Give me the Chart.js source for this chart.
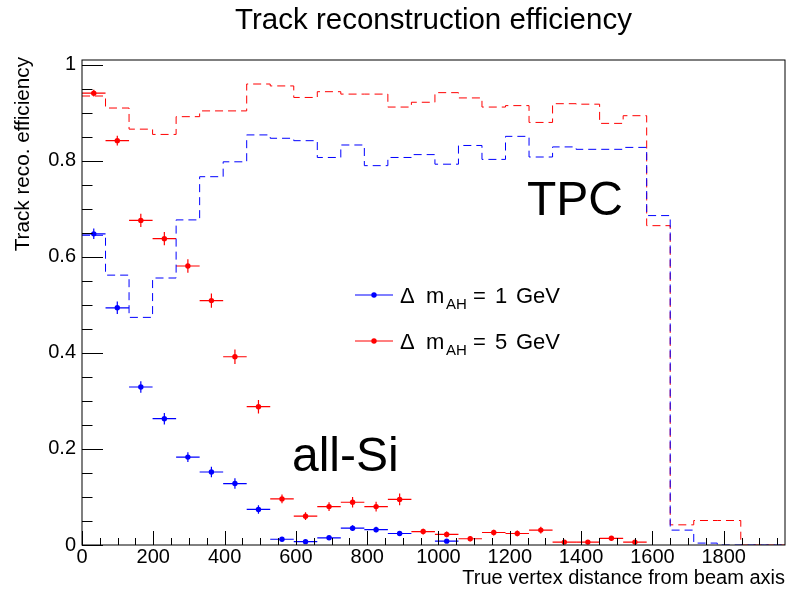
<!DOCTYPE html>
<html>
<head>
<meta charset="utf-8">
<script src="https://cdn.jsdelivr.net/npm/chart.js@4.4.1/dist/chart.umd.min.js"></script>
<style>
  html, body { margin: 0; padding: 0; background: #ffffff; }
  canvas { display: block; }
</style>
</head>
<body>
<canvas id="eff" width="789" height="590"></canvas>
<script>
// Binning of the transverse vertex distance (30 bins of 66)
const binWidth = 66;
const binCenters = [33, 99, 165, 231, 297, 363, 429, 495, 561, 627,
                    693, 759, 825, 891, 957, 1023, 1089, 1155, 1221, 1287,
                    1353, 1419, 1485, 1551, 1617, 1683, 1749, 1815, 1881, 1947];

// TPC efficiency (dashed histograms)
const tpcDm1 = [0.645, 0.562, 0.474, 0.556, 0.677, 0.767, 0.798, 0.854, 0.847, 0.842,
                0.807, 0.833, 0.790, 0.807, 0.813, 0.793, 0.832, 0.803, 0.851, 0.808,
                0.829, 0.824, 0.824, 0.828, 0.686, 0.031, 0.004, 0, 0, 0];
const tpcDm5 = [0.935, 0.910, 0.866, 0.855, 0.892, 0.904, 0.904, 0.960, 0.956, 0.932,
                0.944, 0.939, 0.939, 0.912, 0.922, 0.942, 0.931, 0.912, 0.915, 0.880,
                0.919, 0.918, 0.878, 0.894, 0.665, 0.042, 0.051, 0.051, 0, 0];

// all-Si efficiency (points with error bars)
const siDm1 = [0.648, 0.494, 0.329, 0.263, 0.183, 0.152, 0.128, 0.074, 0.012, 0.007,
               0.015, 0.035, 0.032, 0.024, null, 0.008, null, null, null, null,
               null, null, null, null, null, null, null, null, null, null];
const siDm1Err = [0.011, 0.013, 0.012, 0.012, 0.010, 0.011, 0.011, 0.009, 0.003, 0.003,
                  0.004, 0.006, 0.006, 0.005, 0, 0.003, 0, 0, 0, 0,
                  0, 0, 0, 0, 0, 0, 0, 0, 0, 0];
const siDm5 = [0.941, 0.842, 0.676, 0.638, 0.581, 0.509, 0.392, 0.288, 0.096, 0.060,
               0.080, 0.089, 0.080, 0.095, 0.028, 0.022, 0.013, 0.026, 0.024, 0.031,
               0.006, 0.006, 0.014, 0.006, null, null, null, null, null, null];
const siDm5Err = [0.007, 0.010, 0.014, 0.014, 0.014, 0.015, 0.015, 0.014, 0.009, 0.008,
                  0.009, 0.011, 0.010, 0.012, 0.006, 0.006, 0.005, 0.006, 0.006, 0.007,
                  0.003, 0.003, 0.005, 0.003, 0, 0, 0, 0, 0, 0];

// Axis tick labels
const xTickValues = [0, 200, 400, 600, 800, 1000, 1200, 1400, 1600, 1800];
const yTickValues = [0, 0.2, 0.4, 0.6, 0.8, 1];

// Legend entries
const legendMasses = [1, 5];

const FONT = '"Liberation Sans", Arial, Helvetica, sans-serif';
const BLUE = '#0000ff';
const RED = '#ff0000';

// Histogram outline: one point per lower bin edge plus the last upper edge
function histPoints(vals) {
  const pts = vals.map((v, i) => ({ x: binCenters[i] - binWidth / 2, y: v }));
  const n = vals.length - 1;
  pts.push({ x: binCenters[n] + binWidth / 2, y: vals[n] });
  return pts;
}
function markerPoints(vals) {
  const pts = [];
  vals.forEach((v, i) => { if (v !== null) pts.push({ x: binCenters[i], y: v }); });
  return pts;
}

// Error bars, frame, inward ticks, titles, legend and labels in ROOT style
const rootStyle = {
  id: 'rootStyle',
  beforeDatasetsDraw(chart) {
    const { ctx, scales: { x, y } } = chart;
    const bars = (vals, errs, color) => {
      ctx.save();
      ctx.strokeStyle = color;
      ctx.lineWidth = 1.2;
      vals.forEach((v, i) => {
        if (v === null) return;
        const xc = x.getPixelForValue(binCenters[i]);
        const xl = x.getPixelForValue(binCenters[i] - binWidth / 2);
        const xr = x.getPixelForValue(binCenters[i] + binWidth / 2);
        const yc = y.getPixelForValue(v);
        const yl = y.getPixelForValue(Math.max(0, v - errs[i]));
        const yh = y.getPixelForValue(v + errs[i]);
        ctx.beginPath();
        ctx.moveTo(xl, yc); ctx.lineTo(xr, yc);
        ctx.moveTo(xc, yl); ctx.lineTo(xc, yh);
        ctx.stroke();
      });
      ctx.restore();
    };
    bars(siDm1, siDm1Err, BLUE);
    bars(siDm5, siDm5Err, RED);
  },
  afterDraw(chart) {
    const { ctx, chartArea: a, scales: { x, y } } = chart;
    ctx.save();
    // frame
    ctx.strokeStyle = '#000';
    ctx.lineWidth = 1;
    ctx.strokeRect(a.left, a.top, a.right - a.left, a.bottom - a.top);
    // x ticks (inside, from the bottom axis)
    ctx.beginPath();
    for (let v = 0; v <= x.max; v += 50) {
      const px = Math.round(x.getPixelForValue(v)) + 0.5;
      const len = v % 200 === 0 ? 14 : 7;
      ctx.moveTo(px, a.bottom);
      ctx.lineTo(px, a.bottom - len);
    }
    // y ticks (inside, from the left axis)
    for (let k = 0; k <= 20; k++) {
      const v = k * 0.05;
      const py = Math.round(y.getPixelForValue(v)) + 0.5;
      const len = k % 4 === 0 ? 21 : 10.5;
      ctx.moveTo(a.left, py);
      ctx.lineTo(a.left + len, py);
    }
    ctx.stroke();

    ctx.fillStyle = '#000';
    ctx.textBaseline = 'alphabetic';
    // title
    ctx.font = '29.5px ' + FONT;
    ctx.textAlign = 'center';
    ctx.fillText('Track reconstruction efficiency', (a.left + a.right) / 2, 29);
    // x axis title
    ctx.font = '20px ' + FONT;
    ctx.textAlign = 'right';
    ctx.fillText('True vertex distance from beam axis', a.right, 584);
    // y axis title
    ctx.save();
    ctx.font = '20.7px ' + FONT;
    ctx.translate(29, 57);
    ctx.rotate(-Math.PI / 2);
    ctx.textAlign = 'right';
    ctx.fillText('Track reco. efficiency', 0, 0);
    ctx.restore();

    // detector labels
    ctx.font = '48px ' + FONT;
    ctx.textAlign = 'left';
    ctx.fillText('TPC', 527, 215);
    ctx.fillText('all-Si', 292, 471);

    // legend
    const entry = (color, ly, mass) => {
      ctx.strokeStyle = color;
      ctx.fillStyle = color;
      ctx.lineWidth = 1.2;
      ctx.beginPath();
      ctx.moveTo(355, ly); ctx.lineTo(393, ly);
      ctx.stroke();
      ctx.beginPath();
      ctx.arc(374, ly, 2.7, 0, Math.PI * 2);
      ctx.fill();
      ctx.fillStyle = '#000';
      const base = ly + 8;
      ctx.font = '22px ' + FONT;
      ctx.fillText('\u0394', 400, base);
      ctx.fillText('m', 426, base);
      ctx.font = '15px ' + FONT;
      ctx.fillText('AH', 446, base + 6);
      ctx.font = '22px ' + FONT;
      ctx.fillText('=', 473, base);
      ctx.fillText(String(mass), 495, base);
      ctx.fillText('GeV', 516, base);
    };
    entry(BLUE, 295, legendMasses[0]);
    entry(RED, 341, legendMasses[1]);
    ctx.restore();
  }
};

new Chart(document.getElementById('eff'), {
  type: 'line',
  data: {
    datasets: [
      {
        label: 'TPC, \u0394m = 1 GeV',
        data: histPoints(tpcDm1),
        borderColor: BLUE, borderWidth: 1, borderDash: [8, 5],
        stepped: 'before', pointRadius: 0, fill: false
      },
      {
        label: 'TPC, \u0394m = 5 GeV',
        data: histPoints(tpcDm5),
        borderColor: RED, borderWidth: 1, borderDash: [8, 5],
        stepped: 'before', pointRadius: 0, fill: false
      },
      {
        label: 'all-Si, \u0394m = 1 GeV',
        data: markerPoints(siDm1),
        showLine: false, pointRadius: 2.7, pointBorderWidth: 0,
        pointBackgroundColor: BLUE, borderColor: BLUE
      },
      {
        label: 'all-Si, \u0394m = 5 GeV',
        data: markerPoints(siDm5),
        showLine: false, pointRadius: 2.7, pointBorderWidth: 0,
        pointBackgroundColor: RED, borderColor: RED
      }
    ]
  },
  options: {
    responsive: false,
    animation: false,
    devicePixelRatio: 1,
    layout: { padding: { top: 60, right: 1, bottom: 0, left: 0 } },
    plugins: { legend: { display: false }, title: { display: false }, tooltip: { enabled: false } },
    scales: {
      x: {
        type: 'linear', min: 0, max: 1972,
        grid: { display: false, drawTicks: false }, border: { display: false },
        afterBuildTicks: s => { s.ticks = xTickValues.map(v => ({ value: v })); },
        afterFit: s => { s.height = 45; },
        ticks: {
          autoSkip: false, maxRotation: 0, padding: 0, color: '#000',
          font: { family: FONT, size: 20 },
          callback: v => String(v)
        }
      },
      y: {
        type: 'linear', min: 0, max: 1.01,
        grid: { display: false, drawTicks: false }, border: { display: false },
        afterBuildTicks: s => { s.ticks = yTickValues.map(v => ({ value: v })); },
        afterFit: s => { s.width = 82; },
        ticks: {
          autoSkip: false, padding: 6, color: '#000',
          font: { family: FONT, size: 20 },
          callback: v => String(v)
        }
      }
    }
  },
  plugins: [rootStyle]
});
</script>
</body>
</html>
